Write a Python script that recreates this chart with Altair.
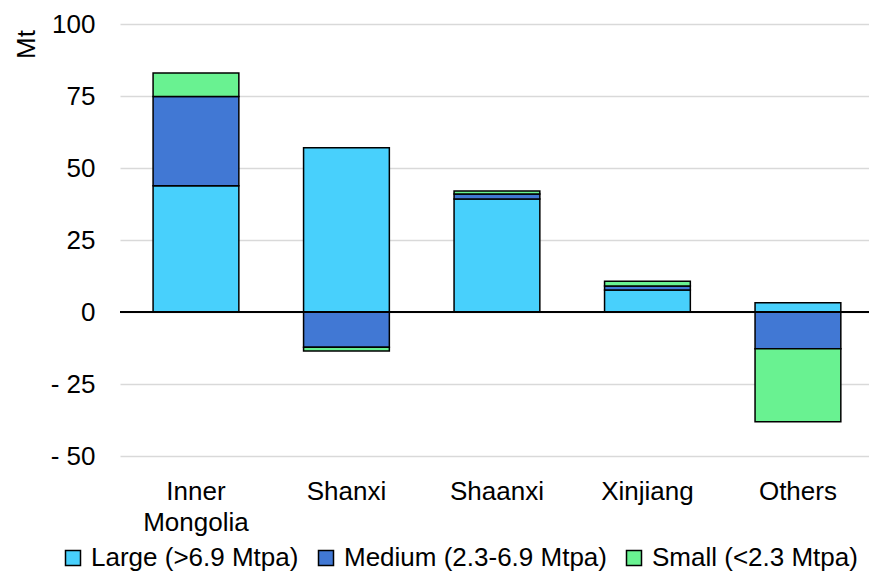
import altair as alt
import pandas as pd

regions = ["Inner Mongolia", "Shanxi", "Shaanxi", "Xinjiang", "Others"]
sizes = ["Large (>6.9 Mtpa)", "Medium (2.3-6.9 Mtpa)", "Small (<2.3 Mtpa)"]
large = [43.8, 57.0, 39.2, 7.6, 3.2]
medium = [31.0, -12.2, 1.8, 1.4, -12.8]
small = [8.2, -1.3, 1.0, 1.7, -25.3]
colors = ["#48d0fc", "#4178d4", "#69f291"]

rows = []
for i, r in enumerate(regions):
    for j, (s, vals) in enumerate(zip(sizes, [large, medium, small])):
        rows.append({"region": r, "size": s, "order": j, "value": vals[i]})
df = pd.DataFrame(rows)

FONT = "Liberation Sans"
FS = 26

x = alt.X("region:N", sort=regions, title=None,
          scale=alt.Scale(paddingInner=0.43, paddingOuter=0.2035, align=0.54),
          axis=alt.Axis(labelExpr="datum.label == 'Inner Mongolia' ? ['Inner', 'Mongolia'] : datum.label",
                        labelFontSize=FS, labelFont=FONT, labelColor="#000000", labelPadding=22,
                        labelAngle=0, ticks=False, domain=False, grid=False, labelLineHeight=31))

bars = alt.Chart(df).mark_bar(stroke="#000000", strokeWidth=1.5).encode(
    x=x,
    y=alt.Y("value:Q", stack="zero", title="Mt",
            scale=alt.Scale(domain=[-50, 100], nice=False),
            axis=alt.Axis(values=[-50, -25, 0, 25, 50, 75, 100],
                          labelExpr="datum.value < 0 ? '- ' + format(-datum.value, 'd') : format(datum.value, 'd')",
                          labelFontSize=FS, labelFont=FONT, labelColor="#000000",
                          labelPadding=25, ticks=False, domain=False,
                          grid=True, gridColor="#d9d9d9", gridWidth=1.5,
                          titleFontSize=FS, titleFont=FONT, titleFontWeight="normal", titleColor="#000000",
                          titleAngle=-90, titleAlign="center", titleBaseline="bottom",
                          titleX=-81, titleY=20)),
    color=alt.Color("size:N", sort=sizes,
                    scale=alt.Scale(domain=sizes, range=colors),
                    legend=alt.Legend(title=None, orient="none", direction="horizontal",
                                      legendX=-60, legendY=521, padding=0,
                                      symbolType="square", symbolSize=225,
                                      symbolStrokeColor="#000000", symbolStrokeWidth=1.5,
                                      labelFontSize=FS, labelFont=FONT, labelColor="#000000",
                                      labelLimit=0, columnPadding=14, labelOffset=5)),
    order=alt.Order("order:Q"),
)

zero = alt.Chart(pd.DataFrame({"y": [0]})).mark_rule(color="#000000", strokeWidth=2).encode(y="y:Q")

chart = alt.layer(bars, zero).properties(
    width=749, height=432,
    autosize=alt.AutoSizeParams(type="none"),
    padding={"left": 112, "top": 16, "right": 0, "bottom": 118},
).configure(background="#ffffff").configure_view(stroke="transparent", strokeWidth=0)

chart.save("out.html", embed_options={"renderer": "svg", "actions": False})
